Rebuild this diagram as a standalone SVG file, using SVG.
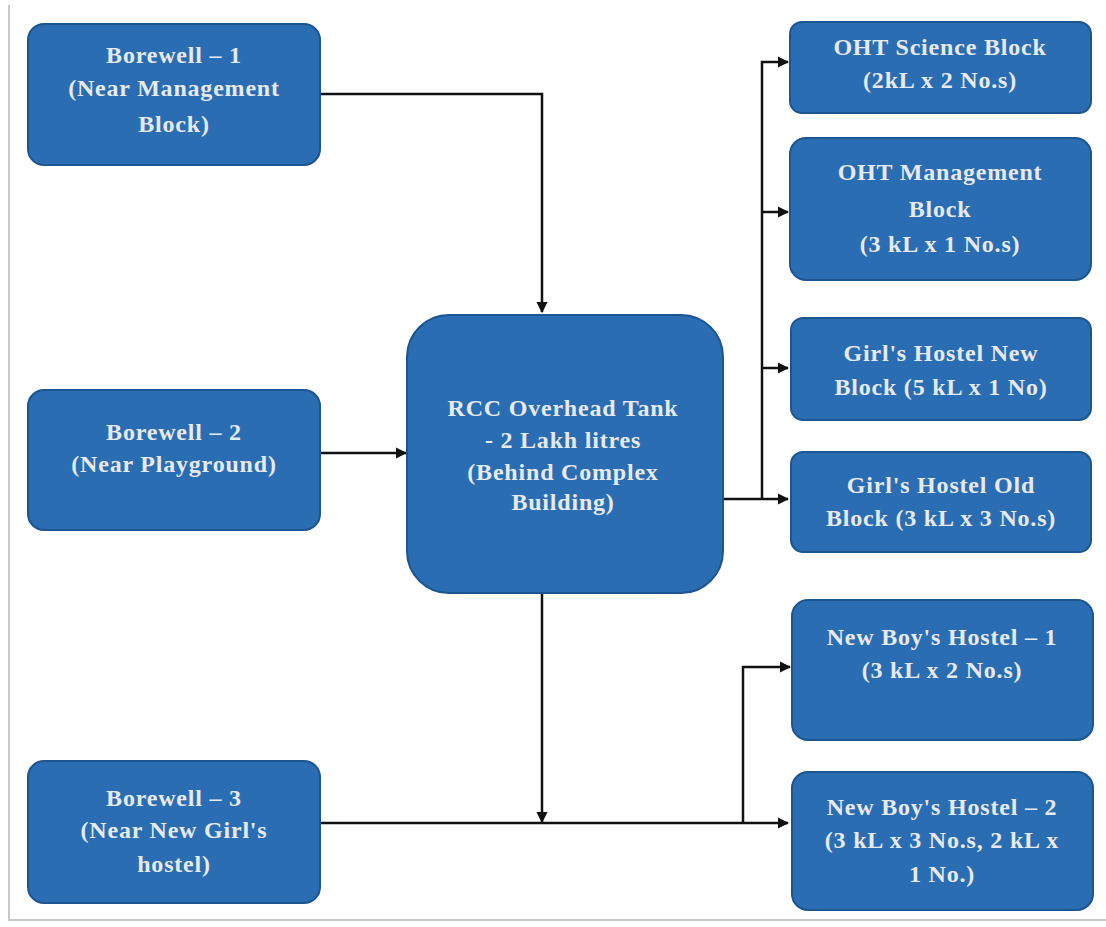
<svg xmlns="http://www.w3.org/2000/svg" width="1106" height="927" viewBox="0 0 1106 927">
<style>
.box{fill:#2b6db3;stroke:#1d5590;stroke-width:2}
.t{font-family:"Liberation Serif",serif;font-weight:bold;font-size:24px;letter-spacing:0.8px;fill:#e6eaef;text-anchor:middle}
.c{fill:none;stroke:#111;stroke-width:2.5}
</style>
<defs>
<marker id="ah" viewBox="0 0 10 10" refX="9" refY="5" markerWidth="4.5" markerHeight="4.5" orient="auto">
<path d="M0,0 L10,5 L0,10 z" fill="#111"/>
</marker>
</defs>
<rect width="1106" height="927" fill="#fff"/>
<path d="M9,5 V920 H1106" fill="none" stroke="#c8c8c8" stroke-width="2"/>

<g id="connectors">
<path class="c" d="M320,94 H542 V312" marker-end="url(#ah)"/>
<path class="c" d="M320,453 H406" marker-end="url(#ah)"/>
<path class="c" d="M542,593 V822" marker-end="url(#ah)"/>
<path class="c" d="M320,823 H788" marker-end="url(#ah)"/>
<path class="c" d="M743,823 V667 H790" marker-end="url(#ah)"/>
<path class="c" d="M722,499 H788" marker-end="url(#ah)"/>
<path class="c" d="M762,499 V62 H788" marker-end="url(#ah)"/>
<path class="c" d="M762,212 H788" marker-end="url(#ah)"/>
<path class="c" d="M762,368 H788" marker-end="url(#ah)"/>
</g>

<g id="borewell1">
<rect class="box" x="28" y="24" width="292" height="141" rx="16"/>
<text class="t" x="174" y="63">Borewell – 1</text>
<text class="t" x="174" y="96">(Near Management</text>
<text class="t" x="174" y="132">Block)</text>
</g>
<g id="borewell2">
<rect class="box" x="28" y="390" width="292" height="140" rx="16"/>
<text class="t" x="174" y="440">Borewell – 2</text>
<text class="t" x="174" y="472">(Near Playground)</text>
</g>
<g id="borewell3">
<rect class="box" x="28" y="761" width="292" height="142" rx="16"/>
<text class="t" x="174" y="806">Borewell – 3</text>
<text class="t" x="174" y="838">(Near New Girl's</text>
<text class="t" x="174" y="872">hostel)</text>
</g>
<g id="tank">
<rect class="box" x="407" y="315" width="316" height="278" rx="42"/>
<text class="t" x="563" y="416">RCC Overhead Tank</text>
<text class="t" x="563" y="448">- 2 Lakh litres</text>
<text class="t" x="563" y="480">(Behind Complex</text>
<text class="t" x="563" y="510">Building)</text>
</g>
<g id="oht-science">
<rect class="box" x="790" y="22" width="301" height="91" rx="12"/>
<text class="t" x="940" y="55">OHT Science Block</text>
<text class="t" x="940" y="88">(2kL x 2 No.s)</text>
</g>
<g id="oht-management">
<rect class="box" x="790" y="138" width="301" height="142" rx="16"/>
<text class="t" x="940" y="180">OHT Management</text>
<text class="t" x="940" y="217">Block</text>
<text class="t" x="940" y="252">(3 kL x 1 No.s)</text>
</g>
<g id="girls-new">
<rect class="box" x="791" y="318" width="300" height="102" rx="12"/>
<text class="t" x="941" y="361">Girl's Hostel New</text>
<text class="t" x="941" y="395">Block (5 kL x 1 No)</text>
</g>
<g id="girls-old">
<rect class="box" x="791" y="452" width="300" height="100" rx="12"/>
<text class="t" x="941" y="493">Girl's Hostel Old</text>
<text class="t" x="941" y="526">Block (3 kL x 3 No.s)</text>
</g>
<g id="boys1">
<rect class="box" x="792" y="600" width="301" height="140" rx="16"/>
<text class="t" x="942" y="645">New Boy's Hostel – 1</text>
<text class="t" x="942" y="678">(3 kL x 2 No.s)</text>
</g>
<g id="boys2">
<rect class="box" x="792" y="772" width="301" height="138" rx="16"/>
<text class="t" x="942" y="815">New Boy's Hostel – 2</text>
<text class="t" x="942" y="848">(3 kL x 3 No.s, 2 kL x</text>
<text class="t" x="942" y="882">1 No.)</text>
</g>
</svg>
